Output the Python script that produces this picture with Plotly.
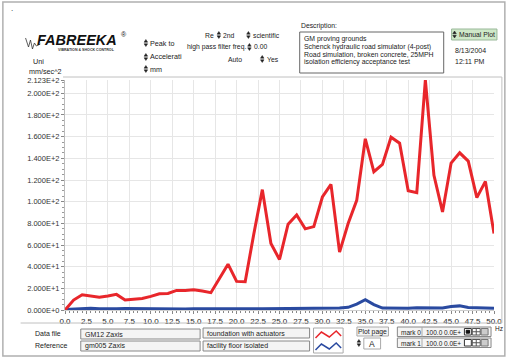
import plotly.graph_objects as go

# ---------------- data ----------------
freq_hz = list(range(0, 51))
foundation_with_actuators = [
    0.0, 9.2, 14.1, 12.9, 11.7, 12.9, 14.4, 9.2, 10.1, 10.7,
    12.6, 15.0, 15.3, 18.1, 18.1, 18.7, 17.5, 16.0, 29.1, 42.3,
    26.4, 26.1, 70.0, 111.1, 61.4, 46.6, 79.2, 87.7, 74.9, 77.0,
    104.3, 116.0, 53.4, 79.8, 101.2, 158.0, 127.6, 134.4, 159.5, 154.0,
    110.1, 108.3, 212.3, 124.3, 90.5, 135.6, 145.1, 137.4, 103.7, 118.7,
    70.6]
facility_floor_isolated = [
    0.5, 1.0, 1.0, 1.5, 1.2, 1.0, 1.2, 1.3, 1.2, 1.3,
    1.2, 1.2, 1.0, 1.0, 1.0, 1.2, 1.1, 1.0, 1.0, 1.1,
    1.0, 1.2, 1.1, 1.1, 1.2, 1.3, 1.3, 1.2, 1.2, 1.2,
    1.5, 1.7, 1.8, 2.5, 5.5, 9.5, 5.0, 1.8, 1.6, 1.6,
    1.7, 2.0, 1.8, 1.7, 1.8, 3.2, 3.8, 2.4, 2.1, 1.7,
    1.5]
y_tick_values = [0, 20, 40, 60, 80, 100, 120, 140, 160, 180, 200, 212.3]
y_tick_labels = ["0.000E+0", "2.000E+1", "4.000E+1", "6.000E+1", "8.000E+1",
                 "1.000E+2", "1.200E+2", "1.400E+2", "1.600E+2", "1.800E+2",
                 "2.000E+2", "2.123E+2"]
x_tick_values = [i * 2.5 for i in range(21)]
x_tick_labels = ["%.1f" % v for v in x_tick_values]
description_lines = ["GM proving grounds",
                     "Schenck hydraulic road simulator (4-post)",
                     "Road simulation, broken concrete, 25MPH",
                     "isolation efficiency acceptance test"]

# ---------------- geometry helpers ----------------
W, H = 514, 359
L, R, T, B = 65, 14, 80, 49
PW, PH = W - L - R, H - T - B
FONT = "Liberation Sans, Arial, sans-serif"


def px(x):
    return (x - L) / PW


def py(y):
    return (H - B - y) / PH


shapes = []
annotations = []


def text(x, y, s, size=6.8, color="#222", anchor="left", bold=False, **kw):
    if bold:
        s = "<b>" + s + "</b>"
    annotations.append(dict(x=px(x), y=py(y), xref="paper", yref="paper", text=s,
                            showarrow=False, xanchor=anchor, yanchor="middle",
                            font=dict(family=FONT, size=size, color=color), **kw))


def rect(x0, y0, x1, y1, line="#888", fill=None, width=1):
    shapes.append(dict(type="rect", xref="paper", yref="paper",
                       x0=px(x0), x1=px(x1), y0=py(y0), y1=py(y1),
                       line=dict(color=line, width=width),
                       fillcolor=fill if fill else "rgba(0,0,0,0)", layer="above"))


def line(x0, y0, x1, y1, color="#bbb", width=1):
    shapes.append(dict(type="line", xref="paper", yref="paper",
                       x0=px(x0), x1=px(x1), y0=py(y0), y1=py(y1),
                       line=dict(color=color, width=width), layer="above"))


def path(points, color="#222", width=1, fill=None, closed=False):
    d = "M " + " L ".join("%f,%f" % (px(a), py(b)) for a, b in points)
    if closed:
        d += " Z"
    shapes.append(dict(type="path", xref="paper", yref="paper", path=d,
                       line=dict(color=color, width=width),
                       fillcolor=fill if fill else "rgba(0,0,0,0)", layer="above"))


def updown(cx, cy):
    path([(cx - 1.8, cy - 0.8), (cx + 1.8, cy - 0.8), (cx, cy - 3.5)], color="#222", width=0.5,
         fill="#222", closed=True)
    path([(cx - 1.8, cy + 0.8), (cx + 1.8, cy + 0.8), (cx, cy + 3.5)], color="#222", width=0.5,
         fill="#222", closed=True)


# ---------------- frame & separators ----------------
rect(2, 2, 511, 356, line="#b0b0b0", width=1.5)
line(63, 77, 508, 77, color="#c0c0c0", width=1)
line(508, 77, 508, 323, color="#c0c0c0", width=1)
line(20, 323, 508, 323, color="#c0c0c0", width=1)
text(8, 8, ".", size=8)

# ---------------- logo ----------------
path([(25, 38), (28, 47), (30, 40), (32, 49), (34, 43), (36, 46), (40, 44)],
     color="#333", width=0.8)
text(77, 40, "<i>FABREEKA</i>", size=14.5, color="#111", anchor="center", bold=True)
text(120, 34, "®", size=7, color="#111", anchor="left")
text(87, 50, "VIBRATION &amp; SHOCK CONTROL", size=3.6, color="#333", anchor="center", bold=True)
text(31, 61, "Uni", size=7.2)
text(26, 71, "mm/sec^2", size=7.2)

# ---------------- header controls ----------------
updown(147, 43); text(149.5, 43, "Peak to", size=7.2)
updown(147, 57); text(149.5, 57, "Accelerati", size=7.2)
updown(147, 69); text(149.5, 69, "mm", size=7.2)
text(205, 35, "Re")
updown(221, 35); text(223.5, 35, "2nd")
text(187, 47, "high pass filter freq.")
updown(252, 47); text(254.5, 47, "0.00")
text(228, 59, "Auto")
updown(251, 35); text(253.5, 35, "scientific")
updown(265, 59); text(267.5, 59, "Yes")

# description
text(302, 26, "Description:")
rect(303, 32, 449, 73, line="#666", width=1)
for i, s in enumerate(description_lines):
    text(305, 39 + i * 7.7, s, size=6.9)

# manual plot button
rect(457, 29, 503, 40, line="#99b899", fill="#cfe8c8", width=1)
updown(460, 34.5)
text(462, 34.5, "Manual Plot", size=6.8)
text(458, 50, "8/13/2004", size=7)
text(458, 61, "12:11 PM", size=7)

# ---------------- bottom panel ----------------
text(33, 333, "Data file", size=7)
text(33, 345, "Reference", size=7)
rect(81, 329, 202, 339, line="#888", fill="#f4f4f4")
rect(81, 341, 202, 351, line="#888", fill="#f4f4f4")
text(83, 334, "GM12 Zaxis", size=7)
text(83, 346, "gm005 Zaxis", size=7)
rect(205, 328, 313, 338, line="#888", fill="#f4f4f4")
rect(205, 341, 313, 351, line="#888", fill="#f4f4f4")
text(207, 333, "foundation with actuators", size=7)
text(207, 346, "facility floor isolated", size=7)
rect(317, 328, 347, 353, line="#aaa", fill="#ffffff")
path([(319, 338), (325, 332), (333, 337), (340, 331), (345, 336)], color="#e8262b", width=1.5)
path([(319, 350), (325, 344), (333, 349), (340, 343), (345, 348)], color="#2a4aa0", width=1.5)
rect(361, 327, 393, 336, line="#aaa", fill="#f4f4f4")
text(377, 331.5, "Plot page", size=6.8, anchor="center")
updown(363, 343)
rect(368, 338, 385, 349, line="#aaa", fill="#ffffff")
text(376.5, 343.5, "A", size=8.5, anchor="center")
for k, yy in enumerate([327, 338]):
    rect(402, yy, 497, yy + 9.5, line="#888", fill="#f4f4f4")
    line(427, yy, 427, yy + 9.5, color="#aaa")
    text(404, yy + 5, "mark %d" % k, size=6.5)
    text(429, yy + 5, "100.0", size=6.5)
    text(447, yy + 5, "0.0E+", size=6.5)
    rect(470, yy + 1.5, 477, yy + 8, line="#333", fill="#ffffff")
    if k == 0:
        rect(471.8, yy + 3.3, 475.2, yy + 6.2, line="#111", fill="#111")
    rect(478, yy + 1.5, 486, yy + 8, line="#555", fill="#ffffff")
    line(482, yy + 1.5, 482, yy + 8, color="#555")
    line(478, yy + 4.75, 486, yy + 4.75, color="#555")
    rect(487, yy + 1.5, 494, yy + 8, line="#777", fill="#cccccc")
text(499, 328, "Hz", size=6.5)

# ---------------- traces ----------------
fig = go.Figure()
fig.add_trace(go.Scatter(x=freq_hz, y=facility_floor_isolated, mode="lines",
                         line=dict(color="#2a4aa0", width=3), name="facility floor isolated"))
fig.add_trace(go.Scatter(x=freq_hz, y=foundation_with_actuators, mode="lines",
                         line=dict(color="#e8262b", width=3), name="foundation with actuators"))

fig.update_layout(
    width=W, height=H, margin=dict(l=L, r=R, t=T, b=B),
    paper_bgcolor="white", plot_bgcolor="white", showlegend=False,
    font=dict(family=FONT, size=8, color="#333"),
    shapes=shapes, annotations=annotations,
    xaxis=dict(range=[0, 50], tickmode="array", tickvals=x_tick_values, ticktext=x_tick_labels,
               showgrid=True, gridcolor="#e6e6e6", gridwidth=1, zeroline=False,
               ticks="outside", ticklen=3, tickcolor="#888", showline=True, linecolor="#cfcfcf",
               tickfont=dict(size=8, color="#222"),
               minor=dict(tickmode="linear", tick0=0, dtick=0.5, ticks="outside", ticklen=2,
                          tickcolor="#888", showgrid=False)),
    yaxis=dict(range=[0, 212.3], tickmode="array", tickvals=y_tick_values, ticktext=y_tick_labels,
               showgrid=True, gridcolor="#e6e6e6", gridwidth=1, zeroline=False,
               ticks="outside", ticklen=3, tickcolor="#888", showline=True, linecolor="#bbbbbb",
               tickfont=dict(size=7.5, color="#333"),
               minor=dict(tickmode="linear", tick0=0, dtick=5, ticks="outside", ticklen=2,
                          tickcolor="#999", showgrid=False)),
)

fig.write_html("out.html", config={"displayModeBar": False},
               post_script="document.body.style.margin='0';document.body.style.overflow='hidden';")
